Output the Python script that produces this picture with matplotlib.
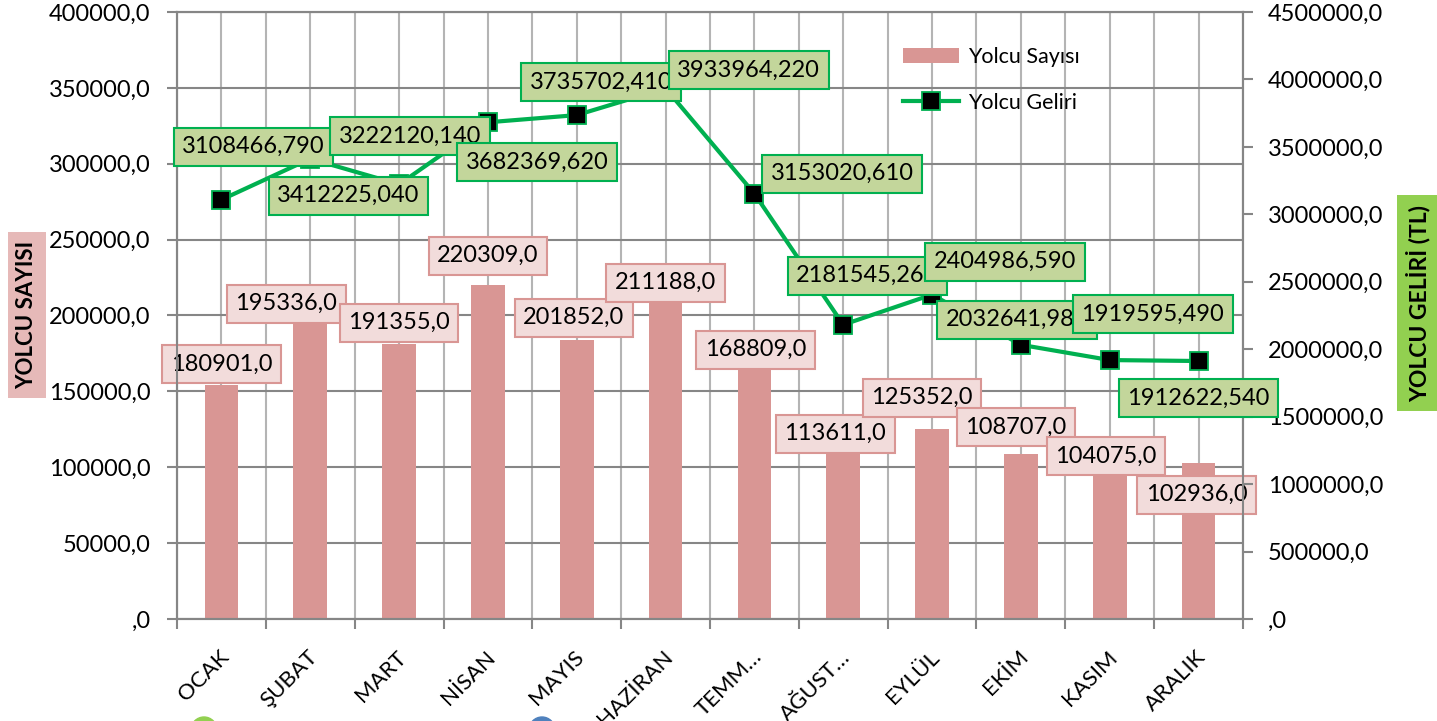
import numpy as np
import matplotlib
matplotlib.use('Agg')
import matplotlib.pyplot as plt
from matplotlib.ticker import FuncFormatter, MultipleLocator, FixedLocator
from matplotlib.transforms import ScaledTranslation
from matplotlib.patches import Patch, Ellipse
from matplotlib.lines import Line2D

plt.rcParams['font.family'] = ['Lato', 'DejaVu Sans']

# data
months = ['OCAK', 'ŞUBAT', 'MART', 'NİSAN', 'MAYIS', 'HAZİRAN',
          'TEMM…', 'AĞUST…', 'EYLÜL', 'EKİM', 'KASIM', 'ARALIK']
yolcu_sayisi = [154000, 195336, 181500, 220309, 184000, 211188,
                168809, 113611, 125352, 108707, 104075, 102936]
sayi_etiket = ['180901,0', '195336,0', '191355,0', '220309,0', '201852,0', '211188,0',
               '168809,0', '113611,0', '125352,0', '108707,0', '104075,0', '102936,0']
yolcu_geliri = [3108466.790, 3412225.040, 3222120.140, 3682369.620, 3735702.410, 3933964.220,
                3153020.610, 2181545.260, 2404986.590, 2032641.980, 1919595.490, 1912622.540]

# label offsets (pixels) from the data point to the label centre
sayi_off = [(0, 21), (-24, 19), (0, 21), (0, 29), (-3, 22), (0, 16),
            (1, 13), (-8, 13), (-10, 31), (-5, 27), (-4, 5), (-2, -32)]
gelir_off = [(32, 53), (38, -37), (11, 48), (49, -40), (24, 33), (83, 18),
             (88, 20), (24, 49), (73, 33), (-4, 25), (43, 46), (0, -37)]

bar_col = '#d99694'
line_col = '#00b050'
grid_col = '#868686'
vgrid_col = '#b4b4b4'

W, H = 1437, 721
fig = plt.figure(figsize=(W / 100, H / 100), dpi=100)
ax1 = fig.add_axes([177 / W, 1 - 619 / H, 1066 / W, 607 / H])
ax2 = ax1.twinx()

x = np.arange(len(months))
ax1.bar(x, yolcu_sayisi, width=0.38, color=bar_col, zorder=2)
ax1.set_xlim(-0.5, 11.5)
ax1.set_ylim(0, 400000)
ax2.set_ylim(0, 4500000)

ax2.plot(x, yolcu_geliri, color=line_col, lw=3, marker='s', ms=12.5,
         mfc='black', mec=line_col, mew=1.3, zorder=3)

# value labels
for i, (v, t) in enumerate(zip(yolcu_sayisi, sayi_etiket)):
    ax1.annotate(t, (i, v), xytext=sayi_off[i], textcoords='offset pixels',
                 ha='center', va='center', fontsize=17, zorder=5 + i,
                 bbox=dict(boxstyle='square,pad=0.36', fc='#f2dcdb', ec=bar_col, lw=1.5))
for i, v in enumerate(yolcu_geliri):
    t = f'{v:.3f}'.replace('.', ',')
    ax2.annotate(t, (i, v), xytext=gelir_off[i], textcoords='offset pixels',
                 ha='center', va='center', fontsize=17, zorder=5 + i,
                 bbox=dict(boxstyle='square,pad=0.36', fc='#c3d69b', ec=line_col, lw=1.5))

# axes formatting
fmt = FuncFormatter(lambda v, pos: f'{int(round(v))},0' if v else ',0')
ax1.yaxis.set_major_locator(MultipleLocator(50000))
ax2.yaxis.set_major_locator(MultipleLocator(500000))
ax1.yaxis.set_major_formatter(fmt)
ax2.yaxis.set_major_formatter(fmt)

ax1.set_xticks(x)
ax1.set_xticklabels(months, rotation=45, ha='right', va='top', rotation_mode='anchor')
ax1.xaxis.set_minor_locator(FixedLocator(np.arange(-0.5, 12, 1)))
ax1.tick_params(axis='x', which='major', length=0, pad=20, labelsize=16)
ax1.tick_params(axis='x', which='minor', length=7, width=1.5, color=grid_col, direction='out')
for lbl in ax1.get_xticklabels():
    lbl.set_transform(lbl.get_transform() + ScaledTranslation(-3 / 100, 0, fig.dpi_scale_trans))

ax1.tick_params(axis='y', length=7, width=1.5, color=grid_col, labelsize=17, pad=12)
ax2.tick_params(axis='y', length=7, width=1.5, color=grid_col, labelsize=17, pad=11)

ax1.grid(axis='y', color=grid_col, lw=1.5, zorder=0)
ax1.grid(axis='x', which='both', color=vgrid_col, lw=1.5, zorder=0)
ax1.set_axisbelow(True)
for ax in (ax1, ax2):
    for s in ax.spines.values():
        s.set_color(grid_col)
        s.set_linewidth(1.5)

# axis titles
fig.text(27 / W, 1 - 315 / H, 'YOLCU SAYISI', rotation=90, ha='center', va='center',
         fontsize=16, fontweight='bold',
         bbox=dict(boxstyle='square,pad=0.4', fc='#e6b9b8', ec='none'))
fig.text(1418 / W, 1 - 303 / H, 'YOLCU GELİRİ (TL)', rotation=90, ha='center', va='center',
         fontsize=16.5, fontweight='bold',
         bbox=dict(boxstyle='square,pad=0.4', fc='#92d050', ec='none'))

# legend
handles = [Patch(fc=bar_col, ec='none'),
           Line2D([0], [0], color=line_col, lw=3, marker='s', ms=12.5,
                  mfc='black', mec=line_col, mew=1.3)]
fig.legend(handles, ['Yolcu Sayısı', 'Yolcu Geliri'], loc='upper left',
           bbox_to_anchor=(903 / W, 1 - 47 / H), frameon=False, fontsize=15.5,
           handlelength=2.6, handletextpad=0.4, labelspacing=1.2,
           borderpad=0, borderaxespad=0)

# partly visible markers at the bottom edge
fig.add_artist(Ellipse((204 / W, 1 - 730 / H), 26 / W, 26 / H, color='#92d050'))
fig.add_artist(Ellipse((542 / W, 1 - 730 / H), 26 / W, 26 / H, color='#4f81bd'))

fig.savefig('out.png', dpi=100)
